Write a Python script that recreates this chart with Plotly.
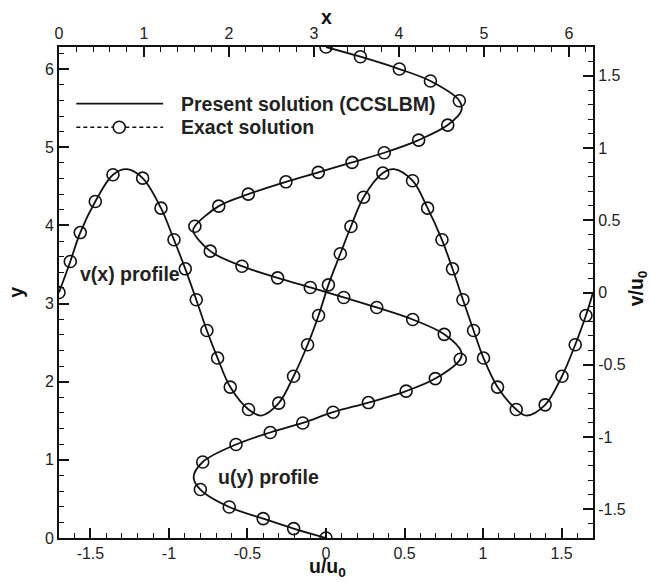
import plotly.graph_objects as go

# ---- u(y) profile (bottom x-axis u/u0, left y-axis y) ----
u_exact_y = [0.0, 0.12, 0.248, 0.397, 0.62, 0.973, 1.196, 1.35, 1.472, 1.61, 1.733, 1.88, 2.04, 2.288,
             2.606, 2.796, 2.95, 3.078, 3.206, 3.329, 3.478, 3.671, 3.99, 4.247, 4.40, 4.558, 4.679,
             4.807, 4.93, 5.092, 5.284, 5.596, 5.848, 6.001, 6.159, 6.283]
u_exact_u = [0.0, -0.206, -0.40, -0.616, -0.80, -0.785, -0.573, -0.355, -0.148, 0.045, 0.27, 0.51, 0.696, 0.855,
             0.753, 0.552, 0.323, 0.113, -0.10, -0.308, -0.535, -0.737, -0.835, -0.683, -0.495, -0.255, -0.049,
             0.166, 0.371, 0.59, 0.775, 0.849, 0.665, 0.467, 0.219, 0.0]

u_line_y = [0.0, 0.12, 0.248, 0.397, 0.62, 0.78, 0.973, 1.196, 1.35, 1.472, 1.61, 1.733, 1.88, 2.04, 2.288,
            2.38, 2.606, 2.796, 2.95, 3.078, 3.206, 3.329, 3.478, 3.671, 3.93, 3.99, 4.247, 4.40, 4.558, 4.679,
            4.807, 4.93, 5.092, 5.284, 5.47, 5.596, 5.848, 6.001, 6.159, 6.283]
u_line_u = [0.0, -0.206, -0.40, -0.616, -0.80, -0.843, -0.785, -0.573, -0.355, -0.148, 0.045, 0.27, 0.51, 0.696, 0.855,
            0.862, 0.753, 0.552, 0.323, 0.113, -0.10, -0.308, -0.535, -0.737, -0.846, -0.835, -0.683, -0.495, -0.255, -0.049,
            0.166, 0.371, 0.59, 0.775, 0.862, 0.849, 0.665, 0.467, 0.219, 0.0]

# ---- v(x) profile (top x-axis x, right y-axis v/u0) ----
v_exact_x = [0.0, 0.133, 0.25, 0.427, 0.635, 0.984, 1.2, 1.353, 1.486, 1.615, 1.74, 1.866, 2.015, 2.23,
             2.585, 2.76, 2.925, 3.054, 3.17, 3.31, 3.435, 3.584, 3.81, 4.16, 4.337, 4.506, 4.63, 4.753,
             4.878, 4.995, 5.16, 5.38, 5.72, 5.918, 6.074, 6.2]
v_exact_v = [0.0, 0.215, 0.415, 0.63, 0.815, 0.792, 0.584, 0.365, 0.164, -0.05, -0.263, -0.454, -0.655, -0.81,
             -0.766, -0.58, -0.362, -0.159, 0.053, 0.268, 0.457, 0.66, 0.827, 0.774, 0.584, 0.365, 0.164, -0.05,
             -0.263, -0.454, -0.655, -0.81, -0.778, -0.58, -0.362, -0.159]

v_line_x = [0.0, 0.133, 0.25, 0.427, 0.635, 0.80, 0.984, 1.2, 1.353, 1.486, 1.615, 1.74, 1.866, 2.015, 2.23,
            2.38, 2.585, 2.76, 2.925, 3.054, 3.17, 3.31, 3.435, 3.584, 3.81, 3.94, 4.16, 4.337, 4.506, 4.63, 4.753,
            4.878, 4.995, 5.16, 5.38, 5.50, 5.72, 5.918, 6.074, 6.2, 6.283]
v_line_v = [0.0, 0.215, 0.415, 0.63, 0.815, 0.854, 0.792, 0.584, 0.365, 0.164, -0.05, -0.263, -0.454, -0.655, -0.81,
            -0.852, -0.766, -0.58, -0.362, -0.159, 0.053, 0.268, 0.457, 0.66, 0.827, 0.854, 0.774, 0.584, 0.365, 0.164, -0.05,
            -0.263, -0.454, -0.655, -0.81, -0.852, -0.778, -0.58, -0.362, -0.159, 0.0]

# ---- ticks ----
u_ticks = [-1.5, -1, -0.5, 0, 0.5, 1, 1.5]
u_ticktext = ["-1.5", "-1", "-0.5", "0", "0.5", "1", "1.5"]
y_ticks = [0, 1, 2, 3, 4, 5, 6]
x_ticks = [0, 1, 2, 3, 4, 5, 6]
v_ticks = [-1.5, -1, -0.5, 0, 0.5, 1, 1.5]
v_ticktext = ["-1.5", "-1", "-0.5", "0", "0.5", "1", "1.5"]

FONT = "Liberation Sans, Arial, Helvetica, sans-serif"
BLACK = "#111111"

fig = go.Figure()
line_style = dict(color=BLACK, width=1.8, shape="spline", smoothing=1.0)
marker_style = dict(symbol="circle-open", size=12, color=BLACK, line=dict(width=1.6, color=BLACK))

fig.add_trace(go.Scatter(x=u_line_u, y=u_line_y, mode="lines", line=line_style,
                         xaxis="x", yaxis="y", showlegend=False))
fig.add_trace(go.Scatter(x=u_exact_u, y=u_exact_y, mode="markers", marker=marker_style,
                         xaxis="x", yaxis="y", showlegend=False))
fig.add_trace(go.Scatter(x=v_line_x, y=v_line_v, mode="lines", line=line_style,
                         xaxis="x2", yaxis="y2", showlegend=False))
fig.add_trace(go.Scatter(x=v_exact_x, y=v_exact_v, mode="markers", marker=marker_style,
                         xaxis="x2", yaxis="y2", showlegend=False))

axis_common = dict(showgrid=False, zeroline=False, showline=True, linewidth=2, linecolor=BLACK,
                   ticks="inside", ticklen=10, tickwidth=2, tickcolor=BLACK, automargin=False,
                   tickfont=dict(family=FONT, size=16, color="#222222"))

fig.update_layout(
    width=651, height=582,
    margin=dict(l=59, r=58, t=47, b=44, autoexpand=False),
    paper_bgcolor="white", plot_bgcolor="white",
    showlegend=False,
    xaxis=dict(range=[-1.7, 1.7], side="bottom", anchor="y",
               tickmode="array", tickvals=u_ticks, ticktext=u_ticktext,
               minor=dict(dtick=0.1, tick0=0, ticks="inside", ticklen=5, tickwidth=1, tickcolor=BLACK),
               **axis_common),
    yaxis=dict(range=[0, 6.2832], side="left", anchor="x",
               tickmode="array", tickvals=y_ticks,
               minor=dict(dtick=0.2, tick0=0, ticks="inside", ticklen=5, tickwidth=1, tickcolor=BLACK),
               **axis_common),
    xaxis2=dict(range=[0, 6.2832], side="top", overlaying="x", anchor="y",
                tickmode="array", tickvals=x_ticks,
                minor=dict(dtick=0.2, tick0=0, ticks="inside", ticklen=5, tickwidth=1, tickcolor=BLACK),
                **axis_common),
    yaxis2=dict(range=[-1.7, 1.7], side="right", overlaying="y", anchor="x",
                tickmode="array", tickvals=v_ticks, ticktext=v_ticktext,
                minor=dict(dtick=0.1, tick0=0, ticks="inside", ticklen=5, tickwidth=1, tickcolor=BLACK),
                **axis_common),
)

# ---- axis titles (as annotations for exact placement) ----
title_font = dict(family=FONT, size=19.5, color=BLACK)
fig.add_annotation(text="<b>x</b>", xref="paper", yref="paper", x=0.5, y=1.0605,
                   xanchor="center", yanchor="middle", showarrow=False, font=title_font)
fig.add_annotation(text="<b>u/u<sub>0</sub></b>", xref="paper", yref="paper", x=0.503, y=-0.061,
                   xanchor="center", yanchor="middle", showarrow=False, font=title_font)
fig.add_annotation(text="<b>y</b>", xref="paper", yref="paper", x=-0.0817, y=0.5,
                   xanchor="center", yanchor="middle", textangle=-90, showarrow=False, font=title_font)
fig.add_annotation(text="<b>v/u<sub>0</sub></b>", xref="paper", yref="paper", x=1.0825, y=0.5086,
                   xanchor="center", yanchor="middle", textangle=-90, showarrow=False, font=title_font)

# ---- manual legend ----
leg_x0, leg_x1, leg_xc = 0.0324, 0.195, 0.1128
leg_y1, leg_y2 = 0.8847, 0.8365
fig.add_shape(type="line", xref="paper", yref="paper", x0=leg_x0, x1=leg_x1, y0=leg_y1, y1=leg_y1,
              line=dict(color=BLACK, width=1.8))
fig.add_shape(type="line", xref="paper", yref="paper", x0=leg_x0, x1=leg_x1, y0=leg_y2, y1=leg_y2,
              line=dict(color=BLACK, width=1.5, dash="4px,3px"))
fig.add_shape(type="circle", xref="paper", yref="paper", xsizemode="pixel", ysizemode="pixel",
              xanchor=leg_xc, yanchor=leg_y2, x0=-6, x1=6, y0=-6, y1=6,
              fillcolor="white", line=dict(color=BLACK, width=1.6))

label_font = dict(family=FONT, size=19.5, color="#222222")
fig.add_annotation(text="<b>Present solution (CCSLBM)</b>", xref="paper", yref="paper",
                   x=0.2249, y=leg_y1, xanchor="left", yanchor="middle", showarrow=False, font=label_font)
fig.add_annotation(text="<b>Exact solution</b>", xref="paper", yref="paper",
                   x=0.2249, y=leg_y2, xanchor="left", yanchor="middle", showarrow=False, font=label_font)
fig.add_annotation(text="<b>v(x) profile</b>", xref="paper", yref="paper",
                   x=0.036, y=0.5385, xanchor="left", yanchor="middle", showarrow=False, font=label_font)
fig.add_annotation(text="<b>u(y) profile</b>", xref="paper", yref="paper",
                   x=0.2944, y=0.1242, xanchor="left", yanchor="middle", showarrow=False, font=label_font)

fig.write_html("out.html")
